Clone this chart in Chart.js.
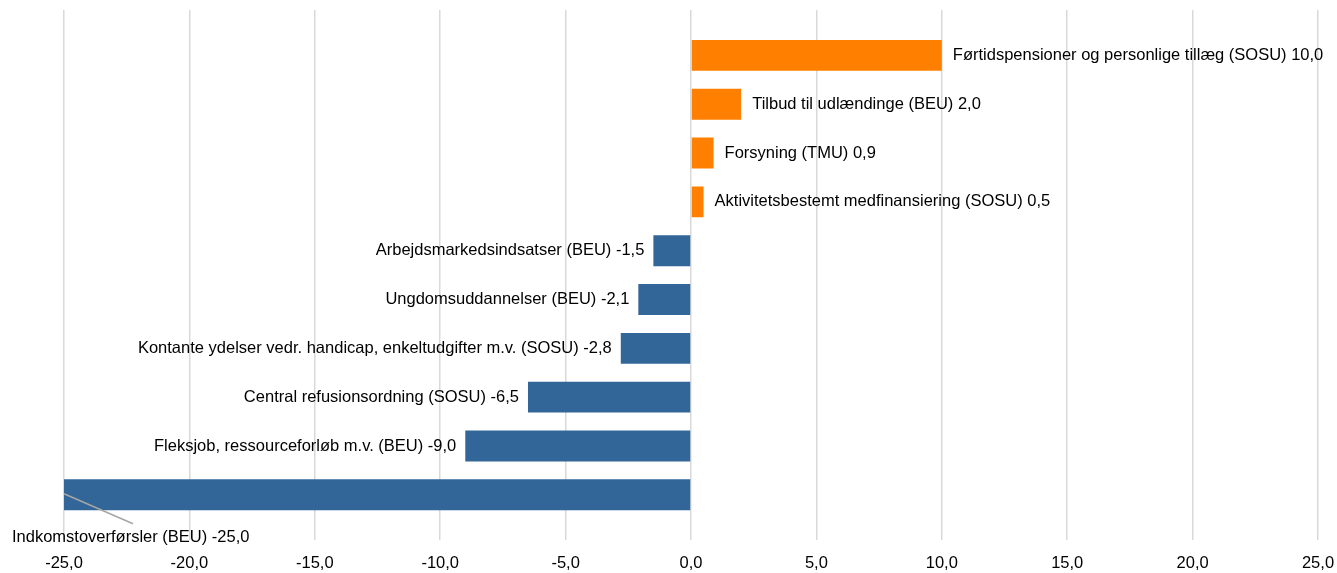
<!DOCTYPE html>
<html>
<head>
<meta charset="utf-8">
<script src="https://cdn.jsdelivr.net/npm/chart.js@4"></script>
<style>
  html, body { margin: 0; padding: 0; background: #fff; }
  #wrap { width: 1337px; height: 573px; }
</style>
</head>
<body>
<div id="wrap"><canvas id="budget-chart"></canvas></div>
<script>
var categories = ["Førtidspensioner og personlige tillæg (SOSU)", "Tilbud til udlændinge (BEU)", "Forsyning (TMU)",
  "Aktivitetsbestemt medfinansiering (SOSU)", "Arbejdsmarkedsindsatser (BEU)", "Ungdomsuddannelser (BEU)",
  "Kontante ydelser vedr. handicap, enkeltudgifter m.v. (SOSU)", "Central refusionsordning (SOSU)",
  "Fleksjob, ressourceforløb m.v. (BEU)", "Indkomstoverførsler (BEU)"];
var values = [10.0, 2.0, 0.9, 0.5, -1.5, -2.1, -2.8, -6.5, -9.0, -25.0];
var xTicks = [-25, -20, -15, -10, -5, 0, 5, 10, 15, 20, 25];

var orange = "rgb(255,128,0)";
var blue = "rgb(50,102,153)";
var fontFamily = "'Liberation Sans', sans-serif";
var font = "16.5px " + fontFamily;

function fmt(v){
  return v.toFixed(1).replace(".", ",");
}

var points = [];
var colors = [];
for (var i = 0; i < values.length; i++){
  points.push({x: values[i], y: i});
  colors.push(values[i] >= 0 ? orange : blue);
}

var labelPlugin = {
  id: "barLabels",
  afterDatasetsDraw: function(chart){
    var ctx = chart.ctx;
    var meta = chart.getDatasetMeta(0);
    ctx.save();
    ctx.font = font;
    ctx.fillStyle = "#000";
    ctx.textBaseline = "middle";
    for (var i = 0; i < meta.data.length; i++){
      var el = meta.data[i];
      var txt = categories[i] + " " + fmt(values[i]);
      if (i === values.length - 1){
        // label moved below the long bar, with a leader line
        ctx.strokeStyle = "#a6a6a6";
        ctx.lineWidth = 1.5;
        ctx.beginPath();
        ctx.moveTo(el.x, el.y - 1);
        ctx.lineTo(el.x + 69, el.y + 29);
        ctx.stroke();
        ctx.textAlign = "left";
        ctx.fillText(txt, el.x - 52, el.y + 43);
      } else if (values[i] >= 0){
        ctx.textAlign = "left";
        ctx.fillText(txt, el.x + 11, el.y);
      } else {
        ctx.textAlign = "right";
        ctx.fillText(txt, el.x - 9, el.y);
      }
    }
    ctx.restore();
  }
};

var config = {
  type: "bar",
  data: {
    datasets: [{
      data: points,
      backgroundColor: colors,
      borderWidth: 0,
      barPercentage: 0.68,
      categoryPercentage: 1
    }]
  },
  options: {
    indexAxis: "y",
    responsive: true,
    maintainAspectRatio: false,
    animation: false,
    layout: { padding: { left: 64, right: 0, top: 10, bottom: -13 } },
    plugins: { legend: { display: false }, tooltip: { enabled: false } },
    scales: {
      x: {
        type: "linear",
        min: -25,
        max: 25,
        afterBuildTicks: function(axis){
          axis.ticks = xTicks.map(function(v){ return {value: v}; });
        },
        afterFit: function(axis){
          axis.paddingLeft = 0;
          axis.paddingRight = 19;
        },
        grid: { color: "#d9d9d9", lineWidth: 1.5, drawTicks: false },
        border: { display: false },
        ticks: {
          padding: 13,
          color: "#000",
          font: { family: fontFamily, size: 16.5 },
          callback: function(v){ return fmt(v); }
        }
      },
      y: {
        type: "linear",
        display: false,
        offset: false,
        reverse: true,
        min: -0.93,
        max: 9.93
      }
    }
  },
  plugins: [labelPlugin]
};

new Chart(document.getElementById("budget-chart"), config);
</script>
</body>
</html>
